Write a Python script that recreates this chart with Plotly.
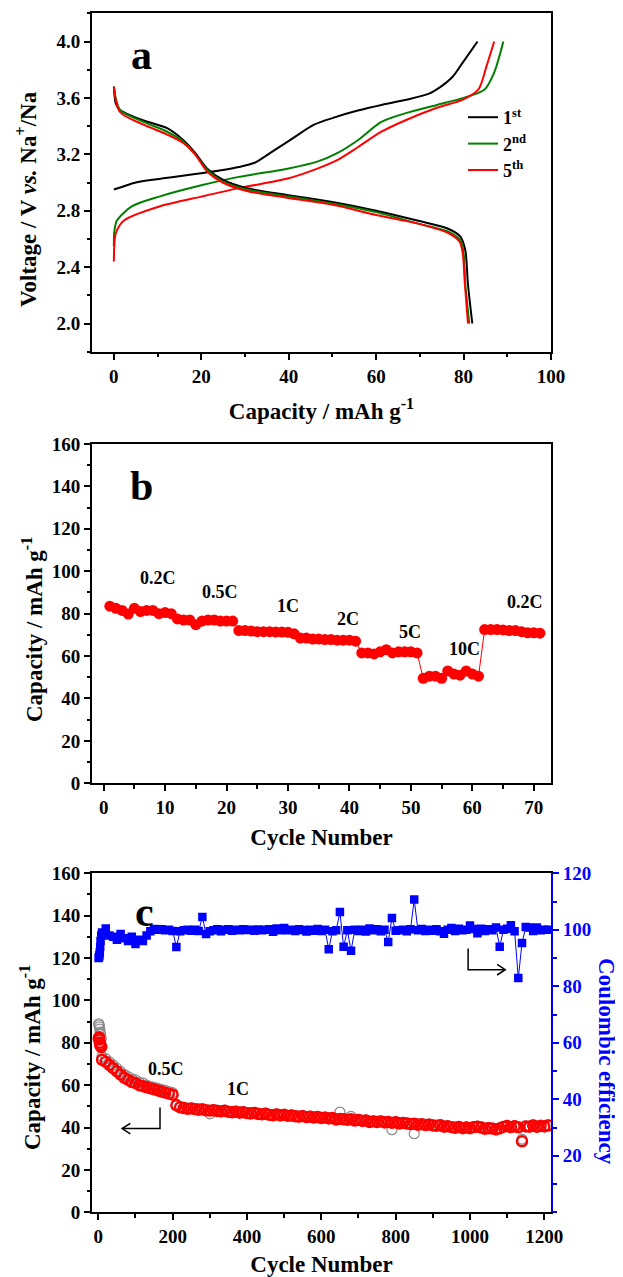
import plotly.graph_objects as go

FONT = "Liberation Serif, Times New Roman, serif"

# ---------------- Panel a: charge/discharge profiles ----------------
cap_ch1 = [0, 2, 5, 10.4, 20, 28.6, 32.2, 35.8, 40.3, 45.8, 50.3, 55.8, 61.2, 66.6, 72.1, 74.8, 77.5, 79.8, 83.2]
v_ch1 = [2.95, 2.97, 3.0, 3.025, 3.065, 3.11, 3.14, 3.21, 3.30, 3.41, 3.46, 3.51, 3.55, 3.585, 3.63, 3.68, 3.75, 3.85, 4.0]
cap_dis1 = [0, 0.45, 1.4, 6.8, 12.2, 15.9, 18.6, 21.3, 24.9, 30.4, 40, 50.3, 60, 69.4, 76.6, 79.3, 80.4, 81, 82]
v_dis1 = [3.68, 3.56, 3.515, 3.44, 3.385, 3.30, 3.21, 3.10, 3.02, 2.96, 2.91, 2.86, 2.80, 2.73, 2.67, 2.615, 2.52, 2.28, 2.0]

cap_ch2 = [0, 0.1, 0.7, 4.1, 10.4, 20, 28.6, 40, 46.7, 51.2, 55.8, 61.2, 66.6, 73.9, 80, 84.8, 87, 89.1]
v_ch2 = [2.55, 2.65, 2.73, 2.83, 2.90, 2.98, 3.04, 3.10, 3.15, 3.21, 3.30, 3.43, 3.49, 3.55, 3.60, 3.66, 3.78, 4.0]
cap_dis2 = [0, 1.4, 6.8, 12.2, 15.9, 18.6, 21.3, 24.9, 30.4, 40, 50.3, 60, 69.4, 76.6, 79.3, 80.0, 80.4, 81.3]
v_dis2 = [3.68, 3.515, 3.43, 3.36, 3.29, 3.20, 3.09, 3.006, 2.95, 2.90, 2.85, 2.79, 2.71, 2.65, 2.59, 2.50, 2.28, 2.0]

cap_ch5 = [0, 0.1, 0.45, 2.3, 10.4, 20, 28.6, 40, 46.7, 51.2, 55.8, 61.2, 66.6, 73.9, 80, 83.4, 85.2, 87]
v_ch5 = [2.44, 2.55, 2.64, 2.73, 2.83, 2.90, 2.96, 3.03, 3.10, 3.16, 3.25, 3.36, 3.44, 3.53, 3.59, 3.66, 3.82, 4.0]
cap_dis5 = [0, 1.4, 6.8, 12.2, 15.9, 18.6, 21.3, 24.9, 30.4, 40, 50.3, 60, 69.4, 76.6, 79.1, 79.8, 80.3, 81.0]
v_dis5 = [3.68, 3.50, 3.41, 3.34, 3.28, 3.20, 3.08, 3.0, 2.94, 2.89, 2.84, 2.77, 2.71, 2.64, 2.58, 2.50, 2.28, 2.0]

# ---------------- Panel b: rate capability ----------------
rate_cycles = list(range(1, 72))
rate_cap = [83.5, 82.5, 81.5, 79.8, 82.5, 81, 81.5, 81.5, 80, 80.5,
            80, 77.5, 77, 77, 74.8, 76.5, 77, 77, 76.5, 76.5,
            76.5, 72, 72, 71.8, 71.5, 71.5, 71.5, 71.3, 71.3, 71.2,
            70.5, 68.5, 68.5, 68, 68, 67.8, 67.8, 67.5, 67.5, 67.5,
            67, 61.5, 61.5, 61, 62, 63, 61.5, 62, 62, 62,
            61.5, 49.5, 50.5, 50.5, 49.5, 53, 51.5, 51, 53, 51.5,
            50.5, 72.5, 72.5, 72.5, 72.3, 72, 72, 71.5, 71, 71,
            70.8]
rate_labels = ["0.2C", "0.5C", "1C", "2C", "5C", "10C", "0.2C"]
rate_label_x = [8.9, 18.9, 30, 39.8, 49.9, 58.8, 68.5]
rate_label_y = [96.7, 90.3, 83.7, 77.7, 71.3, 63.4, 85.3]

# ---------------- Panel c: long-term cycling ----------------
cyc = [1, 2, 3, 4, 5, 6, 8] + list(range(10, 1211, 10))
cap_dis = [82, 82.5, 81.5, 80, 79, 78.5, 78,
           72, 71, 69.5, 68, 66.5, 65, 63.5, 62.5, 61.5, 61,
           60, 59.5, 59, 58.5, 58, 57.5, 57, 56.5, 56, 55.5,
           50.5, 49.5, 49.2, 48.8, 49, 48.7, 48.4, 48.6, 48.1, 48,
           48.2, 47.8, 47.6, 47.9, 47.4, 47.2, 47.5, 47, 47.2, 46.8,
           46.6, 46.9, 46.4, 46.2, 46.5, 46, 45.8, 46.2, 45.7, 46,
           45.5, 45.7, 45.3, 45.1, 45.4, 44.9, 45.1, 44.7, 45, 44.5,
           44.7, 44.3, 44.5, 43.8, 44.1, 43.9, 43.6, 43.9, 43.3, 43.6,
           43.1, 43.3, 42.6, 42.9, 42.6, 42.9, 42.4, 42.6, 42.2, 42.5,
           41.9, 42.2, 41.9, 41.6, 41.8, 41.3, 41.6, 41.2, 41.4, 41,
           40.8, 41.1, 40.4, 40.6, 40.2, 39.9, 40.3, 39.7, 40, 39.7,
           40.2, 40.4, 40, 39.4, 39.7, 39.5, 39.1, 39.6, 40.3, 40.7,
           40.2, 40.6, 40.1, 33.5, 40.5, 40.4, 41, 40.3, 40.8, 40.5, 41]
cap_ch = [89, 88.5, 87.5, 86.5, 85, 84, 82,
          73.5, 72.5, 71, 69.5, 68, 66.5, 65, 64, 63, 62.5,
          61.5, 61, 60, 59.5, 59, 58.5, 58, 57.5, 57, 56.5,
          51, 50, 49.5, 49.2, 49.3, 49, 48.8, 49, 48.5, 46.5,
          48.5, 48.2, 48, 48.2, 47.8, 47.6, 47.8, 47.4, 47.5, 47.2,
          47, 47.2, 46.8, 46.6, 46.8, 46.4, 46.2, 46.5, 46, 46.3,
          45.8, 46, 45.6, 45.4, 45.7, 45.2, 45.4, 45, 45.3, 44.8,
          45, 44.6, 44.8, 44.2, 47.3, 44.2, 44, 45.3, 43.6, 43.9,
          43.4, 43.6, 43, 43.2, 42.9, 43.2, 42.7, 42.9, 39, 42.8,
          42.2, 42.5, 42.2, 41.9, 37.1, 41.6, 41.9, 41.5, 41.7, 41.3,
          41.1, 41.4, 40.7, 40.9, 40.5, 40.2, 40.6, 40, 40.3, 40,
          40.5, 40.7, 40.3, 39.7, 40, 39.8, 39.4, 39.9, 40.6, 41,
          40.5, 40.9, 40.4, 34.5, 40.8, 40.7, 41.3, 40.6, 41.1, 40.8, 41.3]
ce = [90, 90.5, 91, 92, 94, 96, 98,
      99, 100.5, 98, 97.5, 96.5, 98.5, 97, 96, 97.5, 95,
      96.5, 96, 98, 99.5, 100.3, 100, 100.2, 99.8, 100, 99.6,
      93.9, 99.5, 99.8, 100, 99.7, 100, 99.6, 104.5, 98.5, 99.5,
      99.8, 100.2, 99.5, 100, 100.2, 99.7, 100, 99.8, 100.2, 99.9,
      100, 99.7, 100.1, 99.8, 100, 100.2, 99.3, 100.5, 99.8, 100.6,
      99.8, 100, 99.6, 100.2, 99.9, 99.4, 100, 99.7, 100.3, 99.6,
      100, 93.1, 99.5, 99.8, 106.3, 94, 99.8, 92.6, 100, 99.6,
      100, 99.4, 100.5, 99.8, 100.2, 99.5, 100, 95.7, 104.2, 99.7,
      99.8, 100, 99.5, 100.2, 110.7, 99.8, 100.3, 99.6, 100, 99.7,
      100.2, 99.5, 98.6, 100, 100.6, 99.6, 100.4, 99.8, 100, 101.5,
      100.3, 98.8, 100.4, 99.6, 100.2, 99.8, 100.8, 94, 100, 100.4,
      101.6, 99.5, 82.9, 95.3, 101, 100.8, 99.6, 100.8, 99.8, 100, 100]

c_labels = ["0.5C", "1C"]
c_label_x = [183, 375]
c_label_y = [67.5, 58]

# ---------------- Figure geometry (page body has an 8 px margin) ----------------
OFF = 8
W, H = 623 - OFF, 1277 - OFF

def px_x(p):
    return (p - OFF) / W

def px_y(p):
    return 1 - (p - OFF) / H

XDOM = [px_x(92), px_x(551)]

def ydom(top, bottom):
    return [px_y(bottom), px_y(top)]

fig = go.Figure()

BLACK, GREEN, RED, BLUE = "#000000", "#008000", "#FF0000", "#0000FF"
for (cx, vy, col, nm, grp) in [
    (cap_ch1, v_ch1, BLACK, "1<sup>st</sup>", "g1"),
    (cap_ch2, v_ch2, GREEN, "2<sup>nd</sup>", "g2"),
    (cap_ch5, v_ch5, RED, "5<sup>th</sup>", "g5"),
]:
    fig.add_trace(go.Scatter(x=cx, y=vy, mode="lines", name=nm, legendgroup=grp,
                             line=dict(color=col, width=2, shape="spline", smoothing=0.8),
                             xaxis="x", yaxis="y"))
for (cx, vy, col, grp) in [
    (cap_dis1, v_dis1, BLACK, "g1"),
    (cap_dis2, v_dis2, GREEN, "g2"),
    (cap_dis5, v_dis5, RED, "g5"),
]:
    fig.add_trace(go.Scatter(x=cx, y=vy, mode="lines", legendgroup=grp, showlegend=False,
                             line=dict(color=col, width=2, shape="spline", smoothing=0.8),
                             xaxis="x", yaxis="y"))

fig.add_trace(go.Scatter(x=rate_cycles, y=rate_cap, mode="lines+markers", showlegend=False,
                         line=dict(color=RED, width=1),
                         marker=dict(color=RED, size=11, symbol="circle"),
                         xaxis="x2", yaxis="y2"))

fig.add_trace(go.Scatter(x=cyc, y=cap_ch, mode="markers", showlegend=False,
                         marker=dict(symbol="circle-open", color="#8a8a8a", size=10, line=dict(width=1.2)),
                         xaxis="x3", yaxis="y3"))
fig.add_trace(go.Scatter(x=cyc, y=cap_dis, mode="markers", showlegend=False,
                         marker=dict(symbol="circle-open", color=RED, size=10, line=dict(width=2.4)),
                         xaxis="x3", yaxis="y3"))
fig.add_trace(go.Scatter(x=cyc, y=ce, mode="lines+markers", showlegend=False,
                         line=dict(color=BLUE, width=1),
                         marker=dict(symbol="square", color=BLUE, size=8.5),
                         xaxis="x3", yaxis="y4"))

tickfont = dict(family=FONT, size=19, color="black", weight="bold")
titlefont = dict(family=FONT, size=23, color="black", weight="bold")
minor_k = dict(ticklen=3.5, ticks="outside", tickcolor="black", tick0=0)

def ax(**kw):
    d = dict(showline=True, linecolor="black", linewidth=2, mirror=True,
             ticks="outside", ticklen=6, tickwidth=1.5, tickcolor="black",
             showgrid=False, zeroline=False, tickfont=tickfont, automargin=False)
    d.update(kw)
    return d

fig.update_layout(
    width=W, height=H, autosize=False,
    margin=dict(l=0, r=0, t=0, b=0),
    plot_bgcolor="white", paper_bgcolor="white",
    font=dict(family=FONT, color="black"),
    xaxis=ax(domain=XDOM, anchor="y", range=[-5, 100], tickvals=[0, 20, 40, 60, 80, 100],
             minor=dict(dtick=10, **minor_k),
             title=dict(text="Capacity / mAh g<sup>-1</sup>", font=titlefont, standoff=17)),
    yaxis=ax(domain=ydom(13.3, 351.7), anchor="x", range=[1.8, 4.2],
             tickvals=[2.0, 2.4, 2.8, 3.2, 3.6, 4.0], tickformat=".1f",
             minor=dict(dtick=0.2, **minor_k)),
    xaxis2=ax(domain=XDOM, anchor="y2", range=[-1.9, 72.8], tickvals=[0, 10, 20, 30, 40, 50, 60, 70],
              minor=dict(dtick=5, **minor_k),
              title=dict(text="Cycle Number", font=titlefont, standoff=12)),
    yaxis2=ax(domain=ydom(444, 783.3), anchor="x2", range=[0, 160], tickvals=list(range(0, 161, 20)),
              minor=dict(dtick=10, **minor_k)),
    xaxis3=ax(domain=XDOM, anchor="y3", range=[-17, 1218], tickvals=list(range(0, 1201, 200)),
              minor=dict(dtick=100, **minor_k),
              title=dict(text="Cycle Number", font=titlefont, standoff=13)),
    yaxis3=ax(domain=ydom(873.3, 1212.3), anchor="x3", range=[0, 160], mirror=False,
              tickvals=list(range(0, 161, 20)),
              minor=dict(dtick=10, **minor_k)),
    yaxis4=dict(overlaying="y3", side="right", anchor="x3", range=[0, 120],
                tickvals=[20, 40, 60, 80, 100, 120], showline=True, linecolor=BLUE, linewidth=2,
                ticks="outside", ticklen=6, tickwidth=1.5, tickcolor=BLUE,
                minor=dict(dtick=10, tick0=0, ticklen=3.5, ticks="outside", tickcolor=BLUE),
                tickfont=dict(family=FONT, size=19, color=BLUE, weight="bold"),
                showgrid=False, zeroline=False, automargin=False),
    legend=dict(x=px_x(463), y=px_y(99), xanchor="left", yanchor="top",
                bgcolor="rgba(0,0,0,0)", borderwidth=0, tracegroupgap=0,
                font=dict(family=FONT, size=18, color="black", weight="bold")),
)

letter_font = dict(family=FONT, size=42, weight="bold", color="black")
ytitle_font = dict(family=FONT, size=23, weight="bold", color="black")
annotations = [
    dict(text="a", x=6.3, y=3.905, xref="x", yref="y", showarrow=False, font=letter_font),
    dict(text="b", x=6.1, y=140, xref="x2", yref="y2", showarrow=False, font=letter_font),
    dict(text="c", x=124, y=141.7, xref="x3", yref="y3", showarrow=False, font=letter_font),
    dict(text="Voltage / V <i>vs.</i> Na<sup>+</sup>/Na", x=px_x(26), y=px_y(199),
         xref="paper", yref="paper", xanchor="center", yanchor="middle", textangle=-90,
         showarrow=False, font=ytitle_font),
    dict(text="Capacity / mAh g<sup>-1</sup>", x=px_x(32), y=px_y(630),
         xref="paper", yref="paper", xanchor="center", yanchor="middle", textangle=-90,
         showarrow=False, font=ytitle_font),
    dict(text="Capacity / mAh g<sup>-1</sup>", x=px_x(30), y=px_y(1058),
         xref="paper", yref="paper", xanchor="center", yanchor="middle", textangle=-90,
         showarrow=False, font=ytitle_font),
    dict(text="Coulombic efficiency", x=px_x(607), y=px_y(1061), xref="paper", yref="paper",
         xanchor="center", yanchor="middle", textangle=90, showarrow=False,
         font=dict(family=FONT, size=23, weight="bold", color=BLUE)),
]
for t, xx, yy in zip(rate_labels, rate_label_x, rate_label_y):
    annotations.append(dict(text=t, x=xx, y=yy, xref="x2", yref="y2", showarrow=False,
                            font=dict(family=FONT, size=18, weight="bold", color="black")))
for t, xx, yy in zip(c_labels, c_label_x, c_label_y):
    annotations.append(dict(text=t, x=xx, y=yy, xref="x3", yref="y3", showarrow=False,
                            font=dict(family=FONT, size=18, weight="bold", color="black")))
fig.update_layout(annotations=annotations)

arrow_line = dict(color="black", width=1.5)
fig.update_layout(shapes=[
    dict(type="path", xref="x3", yref="y3", line=arrow_line, path="M 166 49.5 L 166 39.5 L 64 39.5"),
    dict(type="path", xref="x3", yref="y3", line=arrow_line, path="M 86 42 L 64 39.5 L 86 37"),
    dict(type="path", xref="x3", yref="y3", line=arrow_line, path="M 995 124.5 L 995 114.5 L 1095 114.5"),
    dict(type="path", xref="x3", yref="y3", line=arrow_line, path="M 1073 117 L 1095 114.5 L 1073 112"),
])

fig.write_html("out.html")
